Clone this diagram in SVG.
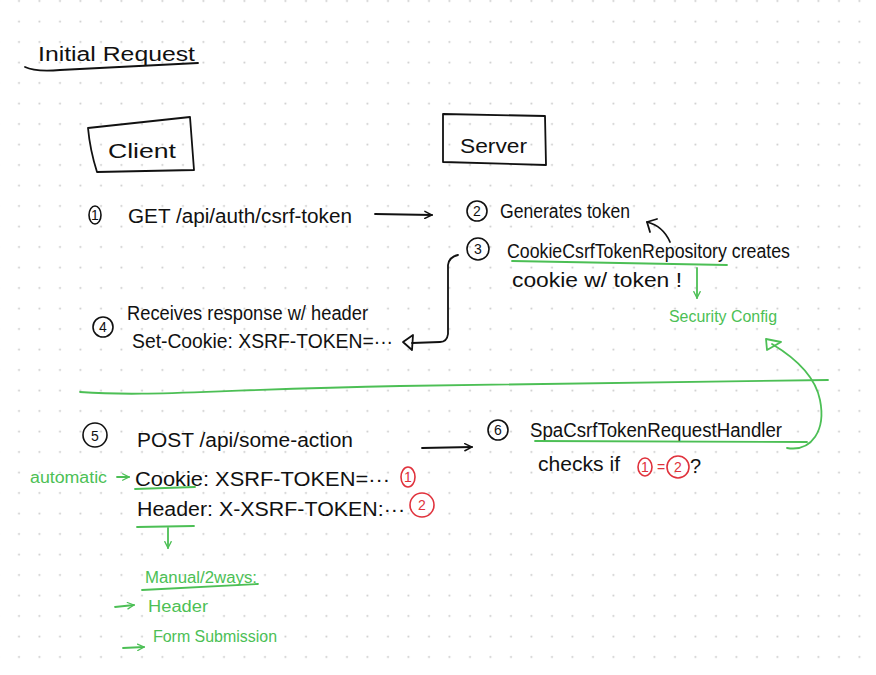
<svg xmlns="http://www.w3.org/2000/svg" width="876" height="675" viewBox="0 0 876 675">
<defs>
<pattern id="dots" x="9" y="-9.5" width="20.5" height="20.5" patternUnits="userSpaceOnUse">
<circle cx="10" cy="10.5" r="1" fill="#c9c9c9"/>
</pattern>
<marker id="ah" viewBox="0 0 10 10" refX="9" refY="5" markerWidth="9" markerHeight="9" orient="auto" markerUnits="userSpaceOnUse">
<path d="M1 1 L9 5 L1 9" fill="none" stroke="#111" stroke-width="1.6" stroke-linecap="round"/>
</marker>
<marker id="ahg" viewBox="0 0 10 10" refX="9" refY="5" markerWidth="8" markerHeight="8" orient="auto" markerUnits="userSpaceOnUse">
<path d="M1 1 L9 5 L1 9" fill="none" stroke="#4cbf55" stroke-width="1.6" stroke-linecap="round"/>
</marker>
<style>
.t{font-family:"Liberation Sans","DejaVu Sans",sans-serif;fill:#111;font-size:20px}
.g{font-family:"Liberation Sans","DejaVu Sans",sans-serif;fill:#4cbf55;font-size:16px}
.r{font-family:"Liberation Sans","DejaVu Sans",sans-serif;fill:#e0323c;font-size:14px;text-anchor:middle}
.n{font-family:"Liberation Sans","DejaVu Sans",sans-serif;fill:#111;font-size:14px;text-anchor:middle}
.ln{fill:none;stroke:#111;stroke-width:1.8;stroke-linecap:round;stroke-linejoin:round}
.gl{fill:none;stroke:#4cbf55;stroke-width:1.8;stroke-linecap:round;stroke-linejoin:round}
.rc{fill:none;stroke:#e0323c;stroke-width:1.6}
.bc{fill:none;stroke:#111;stroke-width:1.6}
</style>
</defs>
<rect width="876" height="675" fill="#ffffff"/>
<rect width="876" height="675" fill="url(#dots)"/>

<g id="title">
<text class="t" x="38" y="61" font-size="25" textLength="157" lengthAdjust="spacingAndGlyphs">Initial Request</text>
<path class="ln" d="M25 67 Q35 72 60 70 L198 63"/>
</g>

<g id="client">
<path class="ln" d="M88 128 L190 117 L194 170 L97 172 Q90 150 88 128 Z"/>
<text class="t" x="108" y="158" font-size="28" textLength="68" lengthAdjust="spacingAndGlyphs">Client</text>
</g>

<g id="server">
<path class="ln" d="M443 114 L545 116 L546 165 L443 162 Z"/>
<text class="t" x="460" y="153" font-size="28" textLength="67" lengthAdjust="spacingAndGlyphs">Server</text>
</g>

<g id="step1">
<ellipse class="bc" cx="95" cy="215" rx="6" ry="9"/>
<text class="n" x="95" y="220">1</text>
<text class="t" x="128" y="223" textLength="224" lengthAdjust="spacingAndGlyphs">GET /api/auth/csrf-token</text>
</g>

<g id="step2">
<circle class="bc" cx="477" cy="211" r="10"/>
<text class="n" x="477" y="216">2</text>
<text class="t" x="500" y="218" textLength="130" lengthAdjust="spacingAndGlyphs">Generates token</text>
</g>

<g id="step3">
<circle class="bc" cx="478" cy="249" r="11"/>
<text class="n" x="478" y="254">3</text>
<text class="t" x="507" y="258" textLength="283" lengthAdjust="spacingAndGlyphs">CookieCsrfTokenRepository creates</text>
<text class="t" x="512" y="287" textLength="170" lengthAdjust="spacingAndGlyphs">cookie w/ token !</text>
<path class="gl" d="M512 261 L727 265"/>
</g>

<g id="security-config">
<text class="g" x="669" y="322" textLength="108" lengthAdjust="spacingAndGlyphs">Security Config</text>
</g>

<g id="step4">
<circle class="bc" cx="103" cy="327" r="10"/>
<text class="n" x="103" y="332">4</text>
<text class="t" x="127" y="320" textLength="241" lengthAdjust="spacingAndGlyphs">Receives response w/ header</text>
<text class="t" x="132" y="348" textLength="261" lengthAdjust="spacingAndGlyphs">Set-Cookie: XSRF-TOKEN=···</text>
</g>

<g id="divider">
<path class="gl" d="M80 392 C150 397 200 390 400 386 L828 380"/>
</g>

<g id="step5">
<circle class="bc" cx="95" cy="435" r="12"/>
<text class="n" x="95" y="441" font-size="16">5</text>
<text class="t" x="137" y="447" font-size="21" textLength="216" lengthAdjust="spacingAndGlyphs">POST /api/some-action</text>
<text class="g" x="30" y="483" textLength="77" lengthAdjust="spacingAndGlyphs">automatic</text>
<text class="t" x="135" y="486" textLength="255" lengthAdjust="spacingAndGlyphs">Cookie: XSRF-TOKEN=···</text>
<path class="gl" d="M135 489 L195 487"/>
<ellipse class="rc" cx="408" cy="477" rx="7" ry="10"/>
<text class="r" x="408" y="482">1</text>
<text class="t" x="137" y="516" textLength="268" lengthAdjust="spacingAndGlyphs">Header: X-XSRF-TOKEN:···</text>
<path class="gl" d="M137 527 L194 526"/>
<circle class="rc" cx="422" cy="505" r="12"/>
<text class="r" x="422" y="510">2</text>
</g>

<g id="manual">
<text class="g" x="145" y="583" textLength="112" lengthAdjust="spacingAndGlyphs">Manual/2ways:</text>
<path class="gl" d="M142 590 L258 584"/>
<text class="g" x="148" y="612" textLength="60" lengthAdjust="spacingAndGlyphs">Header</text>
<text class="g" x="153" y="642" textLength="124" lengthAdjust="spacingAndGlyphs">Form Submission</text>
</g>

<g id="step6">
<circle class="bc" cx="498" cy="430" r="10"/>
<text class="n" x="498" y="435">6</text>
<text class="t" x="530" y="437" textLength="252" lengthAdjust="spacingAndGlyphs">SpaCsrfTokenRequestHandler</text>
<path class="gl" d="M535 441 L807 442"/>
<text class="t" x="538" y="471" textLength="82" lengthAdjust="spacingAndGlyphs">checks if</text>
<ellipse class="rc" cx="645" cy="467" rx="7" ry="9"/>
<text class="r" x="645" y="472">1</text>
<text class="r" x="661" y="472">=</text>
<circle class="rc" cx="678" cy="467" r="11"/>
<text class="r" x="678" y="472">2</text>
<text class="t" x="690" y="473">?</text>
</g>

<g id="connectors">
<path class="ln" d="M375 214 L432 215" marker-end="url(#ah)"/>
<path class="ln" d="M670 242 Q663 226 647 222"/>
<path class="ln" d="M657 219 L647 222 L650 232"/>
<path class="ln" d="M458 255 Q449 257 448 265 L448 334 Q447 342 440 342 L412 343"/>
<path class="ln" d="M403 342 L413 335 L412 350 Z"/>
<path class="gl" d="M697 268 L697 298" marker-end="url(#ahg)"/>
<path class="ln" d="M422 448 L472 447" marker-end="url(#ah)"/>
<path class="gl" d="M787 448 C812 452 826 430 820 400 C815 375 792 356 772 344"/>
<path class="gl" d="M766 339 L781 342 L767 350 Z"/>
<path class="gl" d="M117 477 L129 477" marker-end="url(#ahg)"/>
<path class="gl" d="M168 528 L168 548" marker-end="url(#ahg)"/>
<path class="gl" d="M115 607 L134 605" marker-end="url(#ahg)"/>
<path class="gl" d="M123 648 L144 647" marker-end="url(#ahg)"/>
</g>
</svg>
